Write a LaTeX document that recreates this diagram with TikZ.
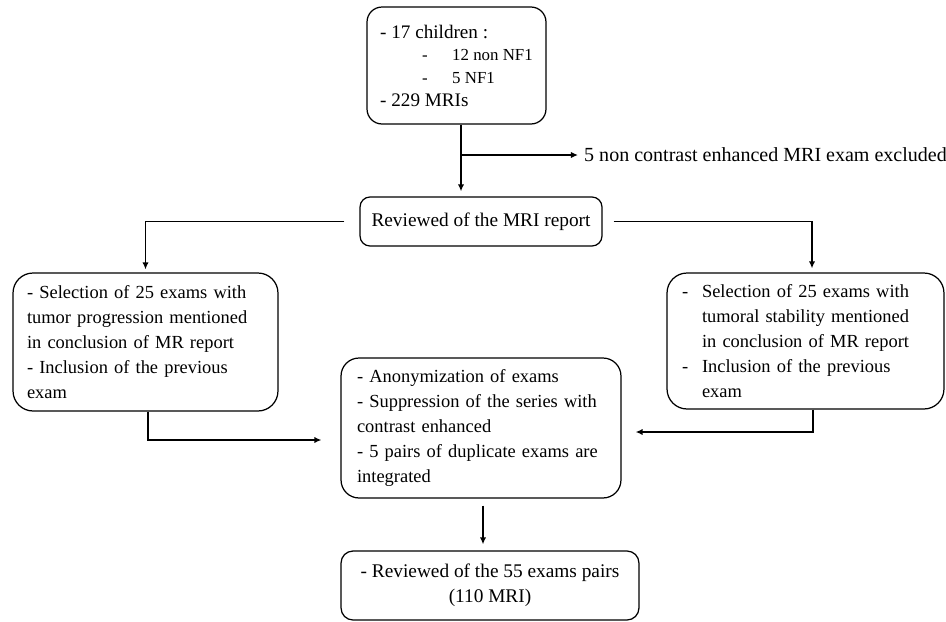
\documentclass[tikz,border=0pt]{standalone}
\usepackage{fontspec}
\setmainfont{Liberation Serif}
\usetikzlibrary{arrows.meta}
\newcommand{\dash}{\makebox[0.4cm][l]{-}}
\newcommand{\ind}{\hspace*{0.4cm}}
\newcommand{\sub}[1]{\hspace*{0.84cm}{\fontsize{9.6}{12.8}\selectfont\makebox[0.6cm][l]{-}#1}}
\tikzset{
  box/.style={draw, line width=0.7pt, rounded corners=#1, inner ysep=0pt,
    font=\fontsize{10.5}{14.2}\selectfont},
  flow/.style={->, line width=1pt}
}

\begin{document}
\begin{tikzpicture}[>={Latex[length=4pt,width=3.6pt]}]
\newcommand{\xx}{0.02}
\newcommand{\yy}{-0.02}
\useasboundingbox (0,0) rectangle (946*\xx,621*\yy);
\node[box=0.3cm, align=left, minimum width=3.58cm, minimum height=2.34cm,
  font=\fontsize{10.9}{12.9}\selectfont] (cohort) at (456.5*\xx,65.5*\yy)
  {- 17 children :\\ \sub{12 non NF1}\\ \sub{5 NF1}\\ - 229 MRIs};
\node[box=0.2cm, align=center, minimum width=4.84cm, minimum height=0.98cm,
  font=\fontsize{11}{14}\selectfont] (report) at (481*\xx,221.5*\yy)
  {Reviewed of the MRI report};
\node[anchor=west, font=\fontsize{11.4}{14}\selectfont] (excl) at (578*\xx,155*\yy)
  {5 non contrast enhanced MRI exam excluded};
\coordinate (split) at (461*\xx,155*\yy);
%%%%%%%%%%%%%%%
\node[box=0.4cm, align=left, inner xsep=0.28cm, text width=4.74cm, minimum width=5.3cm, minimum height=2.76cm] (prog) at (145.5*\xx,342*\yy)
  {- Selection of 25 exams with\\ tumor progression mentioned\\ in conclusion of MR report\\ - Inclusion of the previous\\ exam};
\node[box=0.4cm, align=left, inner xsep=0.3cm, text width=4.94cm, minimum width=5.54cm, minimum height=2.72cm] (stab) at (805.5*\xx,341*\yy)
  {\dash Selection of 25 exams with\\ \ind tumoral stability mentioned\\ \ind in conclusion of MR report\\ \dash Inclusion of the previous\\ \ind exam};
\node[box=0.36cm, align=left, inner xsep=0.32cm, text width=4.96cm, minimum width=5.6cm, minimum height=2.8cm] (anon) at (481*\xx,428*\yy)
  {- Anonymization of exams\\ - Suppression of the series with\\ contrast enhanced\\ - 5 pairs of duplicate exams are\\ integrated};
\node[box=0.24cm, align=center, minimum width=5.96cm, minimum height=1.38cm,
  font=\fontsize{11}{14}\selectfont] (pairs) at (490*\xx,585.5*\yy)
  {- Reviewed of the 55 exams pairs\\ (110 MRI)};
%%%%%%%%%%%%%%%
\draw[line width=1pt] (cohort.south -| split) -- (split);
\draw[flow, shorten >=0.1cm] (split) -- (split |- report.north);
\draw[flow] (split) -- (excl);
\draw[flow, shorten <=0.3cm, shorten >=0.06cm] (report.west) -| (prog.north);
\draw[flow, shorten <=0.22cm, shorten >=0.08cm] (report.east) -| ([xshift=0.13cm]stab.north);
\draw[flow] ([xshift=0.05cm]prog.south) |- ([xshift=-0.38cm,yshift=-0.24cm]anon.west);
\draw[flow] ([xshift=0.15cm]stab.south) |- ([xshift=0.28cm,yshift=-0.08cm]anon.east);
\draw[flow, shorten <=0.14cm, shorten >=0.12cm] ([xshift=0.04cm]anon.south) -- ([xshift=0.04cm]anon.south |- pairs.north);
\end{tikzpicture}
\end{document}
